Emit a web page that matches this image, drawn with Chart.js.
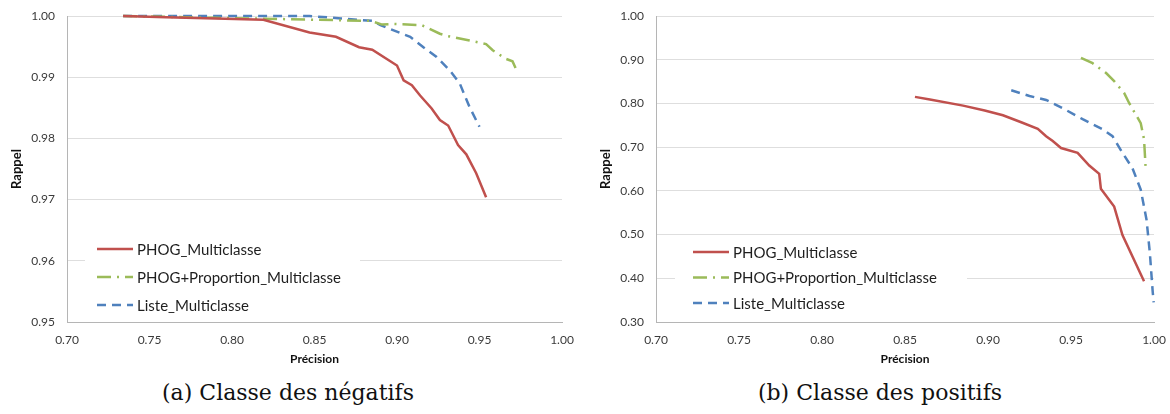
<!DOCTYPE html>
<html lang="fr">
<head>
<meta charset="utf-8">
<script src="https://cdn.jsdelivr.net/npm/chart.js@4"></script>
<style>
  html, body { margin: 0; padding: 0; background: #ffffff; }
  body { width: 1170px; height: 414px; position: relative; overflow: hidden; }
  .panel { position: absolute; top: 0; height: 370px; }
  #panelNeg { left: 0; width: 589px; }
  #panelPos { left: 589px; width: 581px; }
  .caption {
    position: absolute; top: 380px; font-family: "DejaVu Serif", "Liberation Serif", serif;
    font-size: 22px; color: #111; white-space: nowrap; transform: translateX(-50%);
  }
</style>
</head>
<body>
<div class="panel" id="panelNeg"><canvas id="chartNeg"></canvas></div>
<div class="panel" id="panelPos"><canvas id="chartPos"></canvas></div>
<div class="caption" style="left:288px">(a) Classe des négatifs</div>
<div class="caption" style="left:880px">(b) Classe des positifs</div>
<script>
// Series names
const seriesNames = ['PHOG_Multiclasse', 'PHOG+Proportion_Multiclasse', 'Liste_Multiclasse'];

// (a) Classe des négatifs : précision / rappel
const negPhogPrec = [0.734, 0.760, 0.790, 0.819, 0.847, 0.863, 0.877, 0.885, 0.900, 0.904, 0.909, 0.914, 0.921, 0.926, 0.931, 0.937, 0.942, 0.948, 0.954];
const negPhogRapp = [1.000, 0.9998, 0.9996, 0.9994, 0.9973, 0.9966, 0.9949, 0.9945, 0.9919, 0.9895, 0.9887, 0.9870, 0.9849, 0.9830, 0.9821, 0.9789, 0.9774, 0.9743, 0.9704];
const negPropPrec = [0.734, 0.790, 0.849, 0.884, 0.891, 0.898, 0.915, 0.926, 0.931, 0.944, 0.954, 0.958, 0.966, 0.970, 0.972];
const negPropRapp = [1.000, 0.9997, 0.9994, 0.9992, 0.9986, 0.9987, 0.9985, 0.9971, 0.9967, 0.9960, 0.9954, 0.9944, 0.9930, 0.9926, 0.9914];
const negListePrec = [0.734, 0.847, 0.866, 0.885, 0.890, 0.908, 0.916, 0.924, 0.932, 0.938, 0.944, 0.950];
const negListeRapp = [1.000, 1.000, 0.9996, 0.9992, 0.9985, 0.9966, 0.9949, 0.9933, 0.9911, 0.9890, 0.9851, 0.9819];

// (b) Classe des positifs : précision / rappel
const posPhogPrec = [0.856, 0.865, 0.885, 0.898, 0.909, 0.920, 0.930, 0.935, 0.939, 0.944, 0.954, 0.961, 0.967, 0.968, 0.976, 0.981, 0.994];
const posPhogRapp = [0.815, 0.809, 0.795, 0.784, 0.773, 0.757, 0.742, 0.725, 0.714, 0.698, 0.687, 0.658, 0.639, 0.605, 0.564, 0.499, 0.393];
const posPropPrec = [0.956, 0.963, 0.971, 0.976, 0.982, 0.985, 0.992, 0.994, 0.995];
const posPropRapp = [0.904, 0.892, 0.870, 0.851, 0.824, 0.801, 0.755, 0.718, 0.651];
const posListePrec = [0.914, 0.925, 0.935, 0.946, 0.957, 0.969, 0.975, 0.981, 0.987, 0.992, 0.9955, 0.9975, 0.9992, 0.9998];
const posListeRapp = [0.830, 0.817, 0.808, 0.787, 0.764, 0.741, 0.725, 0.687, 0.652, 0.603, 0.534, 0.458, 0.370, 0.345];

// Tick values
const precisionTicks = [0.70, 0.75, 0.80, 0.85, 0.90, 0.95, 1.00];
const negRappelTicks = [0.95, 0.96, 0.97, 0.98, 0.99, 1.00];
const posRappelTicks = [0.30, 0.40, 0.50, 0.60, 0.70, 0.80, 0.90, 1.00];

const COLORS = ['#C0504D', '#9BBB59', '#4F81BD'];
const DASHES = [[], [14, 6, 2, 6], [9, 6]];
const TEXT = '#3a3a3a';
const FONT = 'Lato, "Open Sans", sans-serif';

function pts(xs, ys) { return xs.map((x, i) => ({ x: x, y: ys[i] })); }

// Legend drawn inside the plot on a white box
const innerLegend = {
  id: 'innerLegend',
  beforeDatasetsDraw(chart, args, opts) {
    const ctx = chart.ctx;
    ctx.save();
    ctx.fillStyle = '#ffffff';
    ctx.fillRect(opts.boxX, opts.boxY, opts.boxW, opts.boxH);
    ctx.font = '15px ' + FONT;
    ctx.textBaseline = 'middle';
    chart.data.datasets.forEach((ds, i) => {
      const y = opts.rowY + i * opts.rowH;
      ctx.strokeStyle = ds.borderColor;
      ctx.lineWidth = 2.5;
      ctx.setLineDash(ds.borderDash || []);
      ctx.beginPath();
      ctx.moveTo(opts.lineX0, y);
      ctx.lineTo(opts.lineX1, y);
      ctx.stroke();
      ctx.setLineDash([]);
      ctx.fillStyle = '#1e1e1e';
      ctx.fillText(ds.label, opts.textX, y + 1);
    });
    ctx.restore();
  }
};

function makeChart(id, data, yMin, yMax, yTicks, plotLeft, legendOpts) {
  const datasets = data.map((d, i) => ({
    label: seriesNames[i],
    data: pts(d[0], d[1]),
    borderColor: COLORS[i],
    backgroundColor: COLORS[i],
    borderWidth: 2.5,
    borderDash: DASHES[i],
    pointRadius: 0,
    showLine: true,
    tension: 0,
    clip: 6
  }));
  return new Chart(document.getElementById(id), {
    type: 'scatter',
    data: { datasets: datasets },
    plugins: [innerLegend],
    options: {
      responsive: true,
      maintainAspectRatio: false,
      animation: false,
      layout: { padding: { left: 0, top: 16, right: legendOpts.padRight, bottom: 0 } },
      plugins: {
        legend: { display: false },
        tooltip: { enabled: false },
        innerLegend: legendOpts
      },
      scales: {
        x: {
          type: 'linear', min: 0.70, max: 1.00,
          afterBuildTicks: s => { s.ticks = precisionTicks.map(v => ({ value: v })); },
          afterFit: s => { s.height = 48; s.paddingLeft = 0; s.paddingRight = 0; },
          grid: { display: false, drawTicks: false },
          border: { display: true, color: '#b5b5b5', width: 1 },
          ticks: { padding: 11, color: TEXT, font: { family: FONT, size: 12 }, maxRotation: 0,
                   callback: v => Number(v).toFixed(2) },
          title: { display: true, text: 'Précision', color: '#111',
                   font: { family: FONT, size: 12, weight: 'bold' }, padding: { top: 0, bottom: 4 } }
        },
        y: {
          type: 'linear', min: yMin, max: yMax,
          afterBuildTicks: s => { s.ticks = yTicks.map(v => ({ value: v })); },
          afterFit: s => { s.width = plotLeft; s.paddingTop = 0; s.paddingBottom = 0; },
          grid: { color: '#dedede', lineWidth: 1, drawTicks: false },
          border: { display: true, color: '#b5b5b5', width: 1 },
          ticks: { padding: 12, color: TEXT, font: { family: FONT, size: 12 },
                   callback: v => Number(v).toFixed(2) },
          title: { display: true, text: 'Rappel', color: '#111',
                   font: { family: FONT, size: 13, weight: 'bold' }, padding: { top: 9, bottom: 0 } }
        }
      }
    }
  });
}

makeChart('chartNeg',
  [[negPhogPrec, negPhogRapp], [negPropPrec, negPropRapp], [negListePrec, negListeRapp]],
  0.95, 1.00, negRappelTicks, 67,
  { padRight: 27, boxX: 85, boxY: 238, boxW: 275, boxH: 80,
    rowY: 249, rowH: 28, lineX0: 97, lineX1: 133, textX: 137 });

makeChart('chartPos',
  [[posPhogPrec, posPhogRapp], [posPropPrec, posPropRapp], [posListePrec, posListeRapp]],
  0.30, 1.00, posRappelTicks, 67,
  { padRight: 16, boxX: 86, boxY: 240, boxW: 292, boxH: 76,
    rowY: 252, rowH: 25.5, lineX0: 104, lineX1: 140, textX: 144 });
</script>
</body>
</html>
